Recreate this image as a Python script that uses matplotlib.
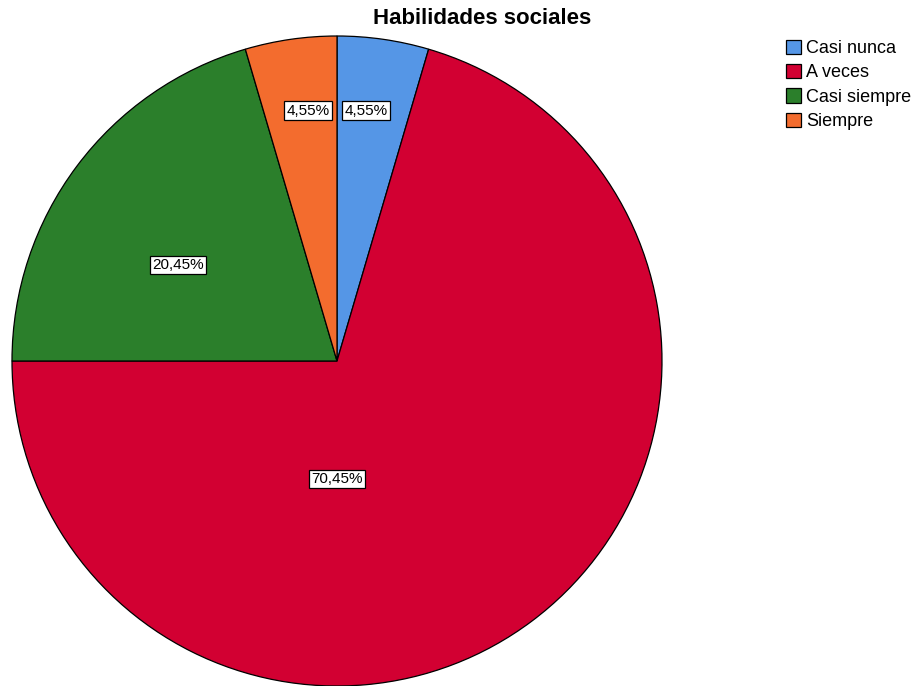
import matplotlib
matplotlib.use("Agg")
import matplotlib.pyplot as plt
from matplotlib.patches import Patch

plt.rcParams['font.family'] = ['Liberation Sans', 'DejaVu Sans']

categories = ["Casi nunca", "A veces", "Casi siempre", "Siempre"]
values = [4.55, 70.45, 20.45, 4.55]
labels = ["4,55%", "70,45%", "20,45%", "4,55%"]
colors = ["#5596E6", "#D20032", "#2B7F2B", "#F36C2E"]
# label positions as fraction of radius (SPSS style placement)
label_pos = [(0.089, 0.77), (0.0, -0.363), (-0.489, 0.295), (-0.089, 0.77)]

W, H = 917, 686
fig = plt.figure(figsize=(W / 100, H / 100), dpi=100)
cx, cy, r = 337, 361, 325
ax = fig.add_axes([(cx - r) / W, (H - cy - r) / H, 2 * r / W, 2 * r / H])
wedges, _ = ax.pie(values, colors=colors, startangle=90, counterclock=False,
                   radius=1.0, wedgeprops=dict(edgecolor="black", linewidth=0.9))
ax.set_xlim(-1, 1)
ax.set_ylim(-1, 1)
ax.set_aspect("equal")
ax.axis("off")

for lab, (x, y) in zip(labels, label_pos):
    ax.text(x, y, lab, ha="center", va="center", fontsize=11,
            bbox=dict(boxstyle="square,pad=0.15", facecolor="white", edgecolor="black", linewidth=0.9))

fig.text(482 / W, 1 - 18 / H, "Habilidades sociales", ha="center", va="center",
         fontsize=16, fontweight="bold")

handles = [Patch(facecolor=c, edgecolor="black", linewidth=0.9) for c in colors]
fig.legend(handles, categories, loc="upper left", bbox_to_anchor=(782 / W, 1 - 36 / H),
           frameon=False, fontsize=13, handlelength=0.85, handleheight=0.85,
           handletextpad=0.3, labelspacing=0.38, borderpad=0.2, borderaxespad=0)

fig.savefig("out.png", dpi=100)
